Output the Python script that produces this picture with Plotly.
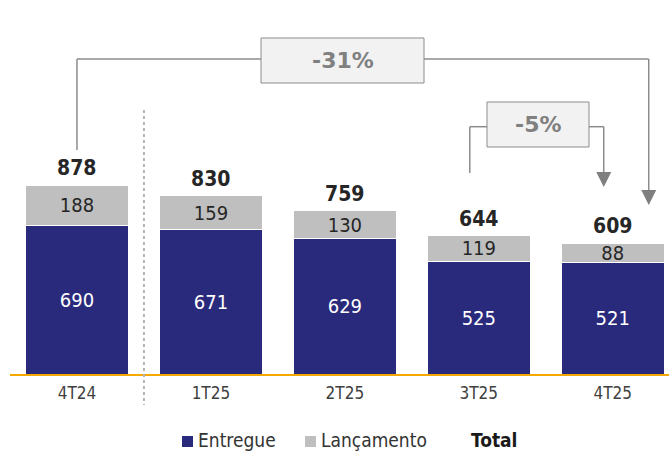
import plotly.graph_objects as go

# Quarterly volumes (units)
periods = ["4T24", "1T25", "2T25", "3T25", "4T25"]
entregue = [690, 671, 629, 525, 521]
lancamento = [188, 159, 130, 119, 88]
totals = [e + l for e, l in zip(entregue, lancamento)]

FONT = "DejaVu Sans Condensed, DejaVu Sans, Verdana, sans-serif"
FONT_WIDE = "DejaVu Sans, Verdana, sans-serif"
BLUE = "#2a2a7c"
GREY_BAR = "#bfbfbf"
LINE_GREY = "#8c8c8c"

W, H = 669, 451
M_L, M_R, M_T, M_B = 10, 0, 0, 77
PLOT_W = W - M_L - M_R
PLOT_H = H - M_T - M_B
X_RANGE = [-0.5, 4.42]
Y_MAX = 1740


def px_x(px):
    """pixel column -> paper x"""
    return (px - M_L) / PLOT_W


def px_y(py):
    """pixel row -> paper y"""
    return (H - M_B - py) / PLOT_H


def cat_px(i):
    """category index -> pixel column"""
    return M_L + (i - X_RANGE[0]) / (X_RANGE[1] - X_RANGE[0]) * PLOT_W


def pct_label(a, b):
    return f"{round((b / a - 1) * 100):d}%"


fig = go.Figure()
fig.add_bar(
    x=periods, y=entregue, name="Entregue", width=0.77,
    marker=dict(color=BLUE, line=dict(color="white", width=1)),
    text=entregue, textposition="inside", insidetextanchor="middle", textangle=0,
    textfont=dict(color="white", size=20, family=FONT),
    showlegend=False,
)
fig.add_bar(
    x=periods, y=lancamento, name="Lançamento", width=0.77,
    marker=dict(color=GREY_BAR, line=dict(color="white", width=1)),
    text=lancamento, textposition="inside", insidetextanchor="middle", textangle=0,
    textfont=dict(color="#262626", size=20, family=FONT),
    showlegend=False,
)

annotations = []
# totals above each stack
for p, t in zip(periods, totals):
    annotations.append(dict(
        x=p, y=t, xref="x", yref="y", text=f"<b>{t}</b>", showarrow=False,
        yanchor="bottom", yshift=3,
        font=dict(size=21, color="#262626", family=FONT),
    ))

shapes = []
line_style = dict(color=LINE_GREY, width=1.5)


def seg(x0, y0, x1, y1):
    shapes.append(dict(type="line", xref="paper", yref="paper",
                       x0=px_x(x0), y0=px_y(y0), x1=px_x(x1), y1=px_y(y1),
                       line=line_style, layer="above"))


def arrow_head(x, tip):
    hw, hh = 7.5, 15
    path = (f"M {px_x(x - hw)} {px_y(tip - hh)} L {px_x(x + hw)} {px_y(tip - hh)} "
            f"L {px_x(x)} {px_y(tip)} Z")
    shapes.append(dict(type="path", xref="paper", yref="paper", path=path,
                       fillcolor="#7f7f7f", line=dict(width=0)))


def label_box(x0, x1, y0, y1, text):
    shapes.append(dict(type="rect", xref="paper", yref="paper",
                       x0=px_x(x0), x1=px_x(x1), y0=px_y(y0), y1=px_y(y1),
                       fillcolor="#f2f2f2", line=dict(color=LINE_GREY, width=1)))
    annotations.append(dict(
        x=px_x((x0 + x1) / 2), y=px_y((y0 + y1) / 2), xref="paper", yref="paper",
        text=f"<b>{text}</b>", showarrow=False, xanchor="center", yanchor="middle",
        font=dict(size=22, color="#808080", family=FONT_WIDE),
    ))


# year-over-year bracket: 4T24 -> 4T25
xl = cat_px(0)
xr = cat_px(4) + 36
seg(xl, 150, xl, 59)
seg(xl, 59, 261, 59)
seg(424, 59, xr, 59)
seg(xr, 59, xr, 192)
arrow_head(xr, 205)
label_box(261, 424, 38, 83, pct_label(totals[0], totals[4]))

# quarter-over-quarter bracket: 3T25 -> 4T25
sl = cat_px(3) - 9
sr = cat_px(4) - 9
seg(sl, 173, sl, 126.7)
seg(sl, 126.7, 487, 126.7)
seg(589, 126.7, sr, 126.7)
seg(sr, 126.7, sr, 174)
arrow_head(sr, 187)
label_box(487, 589, 102, 147, pct_label(totals[3], totals[4]))

# dotted separator between 2024 and 2025
sep = cat_px(0.5)
shapes.append(dict(type="line", xref="paper", yref="paper",
                   x0=px_x(sep), x1=px_x(sep), y0=px_y(110), y1=px_y(405),
                   line=dict(color="#b4b4b4", width=2, dash="dot")))

# legend row
legend_items = [("Entregue", BLUE, 182), ("Lançamento", GREY_BAR, 305)]
for name, color, x0 in legend_items:
    shapes.append(dict(type="rect", xref="paper", yref="paper",
                       x0=px_x(x0), x1=px_x(x0 + 11), y0=px_y(436), y1=px_y(447),
                       fillcolor=color, line=dict(width=0)))
    annotations.append(dict(
        x=px_x(x0 + 14), y=px_y(440), xref="paper", yref="paper", text=name,
        showarrow=False, xanchor="left", yanchor="middle",
        font=dict(size=19, color="#333333", family=FONT),
    ))
annotations.append(dict(
    x=px_x(469), y=px_y(440), xref="paper", yref="paper", text="<b>Total</b>",
    showarrow=False, xanchor="left", yanchor="middle",
    font=dict(size=19, color="#1a1a1a", family=FONT),
))

fig.update_layout(
    width=W, height=H, barmode="stack",
    margin=dict(l=M_L, r=M_R, t=M_T, b=M_B),
    paper_bgcolor="white", plot_bgcolor="white",
    uniformtext=dict(minsize=20, mode="show"),
    annotations=annotations, shapes=shapes,
    xaxis=dict(range=X_RANGE, showgrid=False, zeroline=False,
               showline=True, linecolor="#f5a800", linewidth=2, ticks="",
               ticklabelstandoff=3,
               tickfont=dict(size=17, color="#404040", family=FONT)),
    yaxis=dict(range=[0, Y_MAX], visible=False, showgrid=False),
    font=dict(family=FONT),
)

fig.write_html("out.html")
